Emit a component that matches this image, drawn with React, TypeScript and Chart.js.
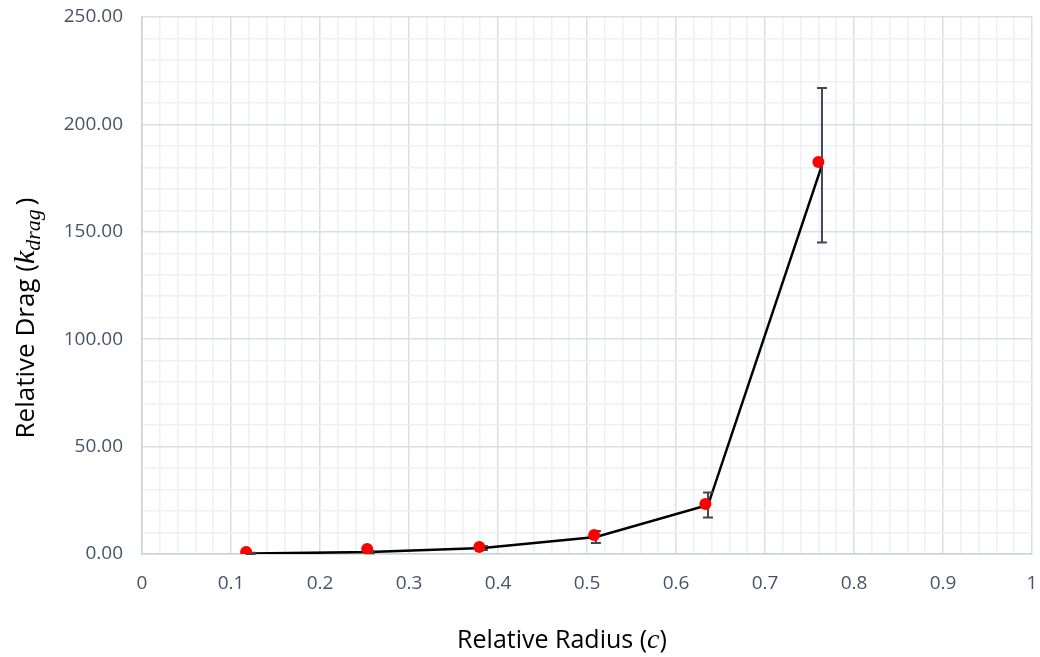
import React, { useEffect, useRef } from "react";
import { Chart, registerables } from "chart.js";

Chart.register(...registerables);

// Red markers (measured points)
const markerX = [0.117, 0.253, 0.379, 0.508, 0.633, 0.76];
const markerY = [0.9, 2.3, 3.3, 8.8, 23.3, 182.5];
// Black line series with error bars
const lineX = [0.122, 0.256, 0.383, 0.51, 0.636, 0.764];
const lineY = [0.2, 0.9, 2.8, 7.9, 22.8, 181];
const errY = [0.4, 0.5, 0.9, 2.8, 5.8, 36];

const xMin = 0;
const xMax = 1;
const xStep = 0.02;
const xMajor = 0.1;
const yMin = 0;
const yMax = 250;
const yStep = 10;
const yMajor = 50;

const TICK_COLOR = "#475467";
const MAJOR_GRID = "#d9dee7";
const MINOR_GRID = "#eef0f4";
const AXIS_COLOR = "#c9d1dd";
const ERR_COLOR = "#3f4756";

const isMul = (v: number, m: number) => {
  const r = v / m;
  return Math.abs(r - Math.round(r)) < 1e-6;
};

const errorBarPlugin = {
  id: "errorBars",
  afterDatasetDraw(chart: any, args: any) {
    if (args.index !== 1) return;
    const ctx = chart.ctx;
    const xs = chart.scales.x;
    const ys = chart.scales.y;
    ctx.save();
    ctx.strokeStyle = ERR_COLOR;
    ctx.lineWidth = 2;
    for (let i = 0; i < lineX.length; i++) {
      const px = xs.getPixelForValue(lineX[i]);
      const top = ys.getPixelForValue(lineY[i] + errY[i]);
      const bot = ys.getPixelForValue(Math.max(0, lineY[i] - errY[i]));
      ctx.beginPath();
      ctx.moveTo(px, top);
      ctx.lineTo(px, bot);
      ctx.moveTo(px - 5, top);
      ctx.lineTo(px + 5, top);
      ctx.moveTo(px - 5, bot);
      ctx.lineTo(px + 5, bot);
      ctx.stroke();
    }
    ctx.restore();
  },
};

const titlePlugin = {
  id: "axisTitles",
  afterDraw(chart: any) {
    const ctx = chart.ctx;
    ctx.save();
    ctx.fillStyle = "#000";
    ctx.textBaseline = "alphabetic";

    // X title
    {
      const normal = "25px 'Open Sans'";
      const ital = "italic 28px 'Liberation Serif'";
      const parts: [string, string, number][] = [
        ["Relative Radius (", normal, 0],
        ["c", ital, 0],
        [")", normal, 0],
      ];
      let w = 0;
      parts.forEach(([t, f]) => {
        ctx.font = f;
        w += ctx.measureText(t).width;
      });
      let x = 562 - w / 2;
      const y = 648;
      parts.forEach(([t, f, dy]) => {
        ctx.font = f;
        ctx.fillText(t, x, y + dy);
        x += ctx.measureText(t).width;
      });
    }
    // Y title (rotated)
    {
      const normal = "26px 'Open Sans'";
      const ital = "italic 30px 'Liberation Serif'";
      const sub = "italic 22px 'Liberation Serif'";
      const parts: [string, string, number][] = [
        ["Relative Drag (", normal, 0],
        ["k", ital, 0],
        ["drag", sub, 6],
        [")", normal, 0],
      ];
      let w = 0;
      parts.forEach(([t, f]) => {
        ctx.font = f;
        w += ctx.measureText(t).width + (t === "drag" ? 4 : 0);
      });
      ctx.translate(34, 318);
      ctx.rotate(-Math.PI / 2);
      let x = -w / 2;
      parts.forEach(([t, f, dy]) => {
        ctx.font = f;
        ctx.fillText(t, x, dy);
        x += ctx.measureText(t).width + (t === "drag" ? 4 : 0);
      });
    }
    ctx.restore();
  },
};

export default function App() {
  const ref = useRef<HTMLCanvasElement | null>(null);
  useEffect(() => {
    document.body.style.margin = "0";
    if (!ref.current) return;
    const chart = new Chart(ref.current, {
      type: "scatter",
      data: {
        datasets: [
          {
            label: "Measured",
            data: markerX.map((x, i) => ({ x, y: markerY[i] })),
            showLine: false,
            pointRadius: 6,
            pointHoverRadius: 6,
            pointBackgroundColor: "#ff0000",
            pointBorderColor: "#ff0000",
            pointBorderWidth: 0,
            order: 0,
          },
          {
            label: "Mean",
            data: lineX.map((x, i) => ({ x, y: lineY[i] })),
            showLine: true,
            borderColor: "#000000",
            borderWidth: 2.5,
            pointRadius: 0,
            pointHoverRadius: 0,
            order: 1,
          },
        ],
      },
      options: {
        animation: false,
        responsive: true,
        maintainAspectRatio: false,
        layout: { padding: { top: 17, right: 8, left: 0, bottom: 0 } },
        plugins: {
          legend: { display: false },
          tooltip: { enabled: false },
          title: { display: false },
        },
        scales: {
          x: {
            type: "linear",
            min: xMin,
            max: xMax,
            afterFit: (s: any) => {
              s.height = 103;
              s.paddingLeft = 0;
              s.paddingRight = 0;
            },
            ticks: {
              stepSize: xStep,
              autoSkip: false,
              maxRotation: 0,
              padding: 18,
              color: TICK_COLOR,
              font: { family: "'Open Sans'", size: 19 },
              callback: (v: any) => {
                const n = Number(v);
                if (!isMul(n, xMajor)) return "";
                if (Math.abs(n) < 1e-9) return "0";
                if (Math.abs(n - 1) < 1e-9) return "1";
                return n.toFixed(1);
              },
            },
            grid: {
              drawTicks: false,
              color: (c: any) => (isMul(c.tick.value, xMajor) ? MAJOR_GRID : MINOR_GRID),
              lineWidth: 1.5,
            },
            border: { display: true, color: AXIS_COLOR, width: 1.5 },
          },
          y: {
            type: "linear",
            min: yMin,
            max: yMax,
            afterFit: (s: any) => {
              s.width = 142;
              s.paddingTop = 0;
              s.paddingBottom = 0;
            },
            ticks: {
              stepSize: yStep,
              autoSkip: false,
              padding: 19,
              color: TICK_COLOR,
              font: { family: "'Open Sans'", size: 19 },
              callback: (v: any) => {
                const n = Number(v);
                if (!isMul(n, yMajor)) return "";
                return n.toFixed(2);
              },
            },
            grid: {
              drawTicks: false,
              color: (c: any) => (isMul(c.tick.value, yMajor) ? MAJOR_GRID : MINOR_GRID),
              lineWidth: 1.5,
            },
            border: { display: true, color: AXIS_COLOR, width: 1.5 },
          },
        },
      },
      plugins: [errorBarPlugin, titlePlugin],
    });
    return () => chart.destroy();
  }, []);
  return (
    <div style={{ width: 1040, height: 657, position: "relative" }}>
      <canvas ref={ref} />
    </div>
  );
}
